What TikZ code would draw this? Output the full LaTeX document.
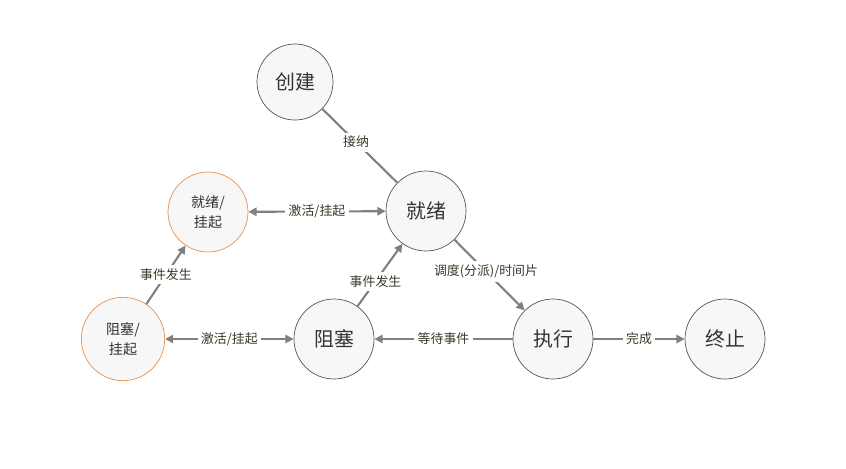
\documentclass[tikz,border=0pt]{standalone}
\usepackage{fontspec}
\setmainfont{Noto Sans CJK SC}
\usetikzlibrary{arrows.meta}
\definecolor{edgegray}{HTML}{808080}
\definecolor{ringgray}{HTML}{555555}
\definecolor{suspendorange}{HTML}{E8904E}
\definecolor{statefill}{HTML}{F7F7F7}
\definecolor{labeltext}{HTML}{3A3A2A}
\tikzset{
  state/.style={circle, draw=ringgray, fill=statefill, line width=0.6pt,
    minimum size=2.4cm, inner sep=0pt, font=\fontsize{17}{20}\selectfont, text=black!80},
  suspended/.style={state, draw=suspendorange, align=center,
    font=\fontsize{12}{17}\selectfont},
  trans/.style={draw=edgegray, line width=1.8pt, -{Triangle[length=7pt,width=7pt]}},
  both/.style={trans, {Triangle[length=7pt,width=7pt]}-{Triangle[length=7pt,width=7pt]}},
  plain/.style={draw=edgegray, line width=1.8pt},
  lbl/.style={fill=white, inner sep=3pt, text=labeltext, font=\fontsize{11}{13}\selectfont}
}
\begin{document}
\begin{tikzpicture}[x=0.03cm, y=-0.03cm]
    \useasboundingbox (0,0) rectangle (846,468);

    % Draw the states
    \node[state, minimum size=2.28cm] (create) at (295,82) {创建};
    \node[state] (ready) at (426,211) {就绪};
    \node[suspended] (readysus) at (208,212) {就绪/\\挂起};
    \node[suspended, minimum size=2.5cm] (blocksus) at (123,339) {阻塞/\\挂起};
    \node[state] (block) at (334,339) {阻塞};
    \node[state] (run) at (553,339) {执行};
    \node[state] (exit) at (725,339) {终止};

    % Draw the transitions
    \draw[plain] (create) -- node[lbl, pos=0.45] {接纳} (ready);
    \draw[both] (readysus) -- node[lbl] {激活/挂起} (ready);
    \draw[trans] (blocksus) -- node[lbl, pos=0.5] {事件发生} (readysus);
    \draw[trans] (block) -- node[lbl, pos=0.4] {事件发生} (ready);
    \draw[trans] (ready) -- node[lbl, pos=0.45] {调度(分派)/时间片} (run);
    \draw[trans] (run) -- node[lbl] {等待事件} (block);
    \draw[trans] (run) -- node[lbl] {完成} (exit);
    \draw[both] (blocksus) -- node[lbl] {激活/挂起} (block);
\end{tikzpicture}
\end{document}
